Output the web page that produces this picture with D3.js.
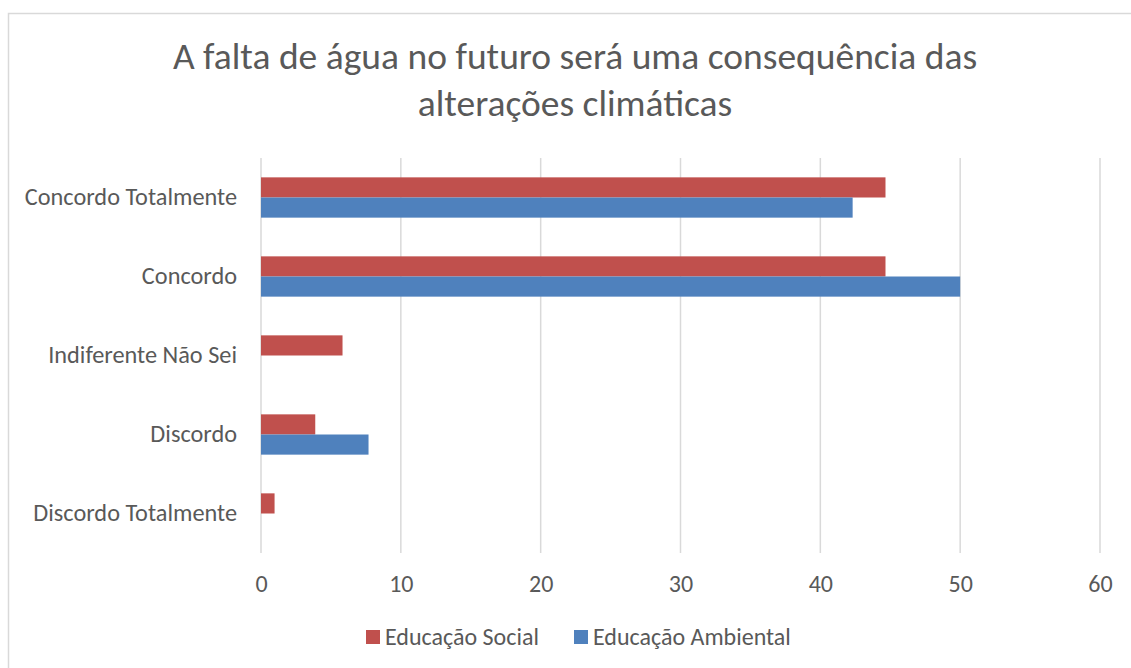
<!DOCTYPE html>
<html>
<head>
<meta charset="utf-8">
<script src="https://cdn.jsdelivr.net/npm/d3@7"></script>
<style>
  body { margin: 0; background: #fff; }
  text { font-family: Carlito, Calibri, "Open Sans", sans-serif; fill: #595959; }
</style>
</head>
<body>
<svg id="chart"></svg>
<script>
// data (percentages)
const categories = ["Concordo Totalmente", "Concordo", "Indiferente Não Sei", "Discordo", "Discordo Totalmente"];
const seriesNames = ["Educação Social", "Educação Ambiental"];
const social = [44.66, 44.66, 5.83, 3.88, 0.97];
const ambiental = [42.31, 50, 0, 7.69, 0];
const xTicks = [0, 10, 20, 30, 40, 50, 60];
const colors = ["#c0504d", "#4f81bd"];

const width = 1131, height = 668;
const margin = { top: 158, right: 31, bottom: 115, left: 261 };
const plotW = width - margin.left - margin.right;
const plotH = height - margin.top - margin.bottom;

const svg = d3.select("#chart").attr("width", width).attr("height", height);

// chart frame
svg.append("rect")
  .attr("x", 8.5).attr("y", 13.5)
  .attr("width", width + 20).attr("height", height + 20)
  .attr("fill", "#fff").attr("stroke", "#d9d9d9").attr("stroke-width", 1.5);

// title
svg.append("text")
  .attr("x", 575).attr("y", 69)
  .attr("text-anchor", "middle")
  .style("font-size", "37.5px")
  .text("A falta de água no futuro será uma consequência das");
svg.append("text")
  .attr("x", 575).attr("y", 116)
  .attr("text-anchor", "middle")
  .style("font-size", "37.5px")
  .text("alterações climáticas");

const g = svg.append("g").attr("transform", `translate(${margin.left}, ${margin.top})`);

const x = d3.scaleLinear().domain([0, 60]).range([0, plotW]);
const y = d3.scaleBand().domain(categories).range([0, plotH]).paddingInner(0.49).paddingOuter(0.245);
const ySub = d3.scaleBand().domain(seriesNames).range([0, y.bandwidth()]);

// gridlines
g.selectAll(".grid")
  .data(xTicks)
  .enter()
  .append("line")
  .attr("x1", d => x(d)).attr("x2", d => x(d))
  .attr("y1", 0).attr("y2", plotH)
  .attr("stroke", "#d9d9d9").attr("stroke-width", 1.5);

// bars
const rows = categories.map((c, i) => ({ cat: c, vals: [social[i], ambiental[i]] }));
const groups = g.selectAll(".cat")
  .data(rows)
  .enter()
  .append("g")
  .attr("transform", d => `translate(0, ${y(d.cat)})`);

groups.selectAll("rect")
  .data(d => d.vals.map((v, j) => ({ name: seriesNames[j], v: v, j: j })))
  .enter()
  .filter(d => d.v > 0)
  .append("rect")
  .attr("x", 0)
  .attr("y", d => ySub(d.name))
  .attr("width", d => x(d.v))
  .attr("height", ySub.bandwidth())
  .attr("fill", d => colors[d.j]);

// x axis
const xAxis = g.append("g")
  .attr("transform", `translate(0, ${plotH})`)
  .call(d3.axisBottom(x).tickValues(xTicks).tickSize(0).tickPadding(22));
xAxis.select(".domain").remove();
xAxis.selectAll("text").style("font-size", "24px").attr("fill", "#595959");

// y axis
const yAxis = g.append("g")
  .call(d3.axisLeft(y).tickSize(0).tickPadding(24));
yAxis.select(".domain").remove();
yAxis.selectAll("text").style("font-size", "24.3px").attr("fill", "#595959");

// legend
const legendX = [366, 574];
const legend = svg.selectAll(".legend")
  .data(seriesNames)
  .enter()
  .append("g")
  .attr("transform", (d, i) => `translate(${legendX[i]}, 637)`);
legend.append("rect")
  .attr("x", 0).attr("y", -7)
  .attr("width", 14).attr("height", 14)
  .attr("fill", (d, i) => colors[i]);
legend.append("text")
  .attr("x", 19).attr("y", 8)
  .style("font-size", "24px")
  .text(d => d);
</script>
</body>
</html>
